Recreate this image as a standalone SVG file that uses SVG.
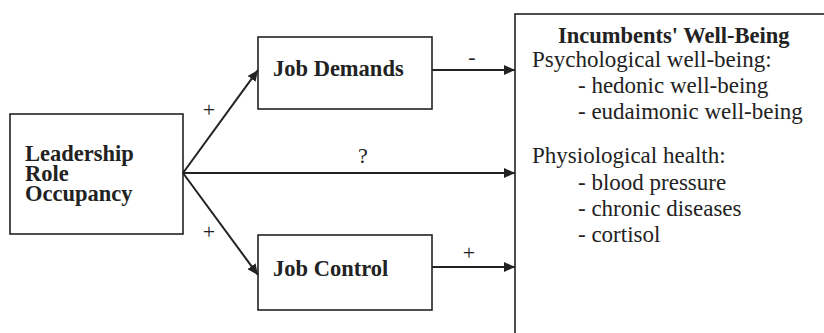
<svg xmlns="http://www.w3.org/2000/svg" width="824" height="333" viewBox="0 0 824 333">
<style>
.box{fill:#fff;stroke:#222;stroke-width:1.6}
.b{font-family:"Liberation Serif",serif;font-weight:bold;font-size:22.5px;fill:#222}
.r{font-family:"Liberation Serif",serif;font-size:23px;fill:#222}
.lbl{font-family:"Liberation Serif",serif;font-size:22px;fill:#222}
.ln{stroke:#222;stroke-width:2;fill:none;marker-end:url(#ah)}
</style>
<defs>
<marker id="ah" markerWidth="12" markerHeight="10" refX="11" refY="5" orient="auto" markerUnits="userSpaceOnUse">
<path d="M0,0 L11,5 L0,10 Z" fill="#222"/>
</marker>
</defs>
<g id="leadership">
<rect class="box" x="10" y="114" width="173" height="120"/>
<text class="b" x="25" y="161">Leadership</text>
<text class="b" x="25" y="181">Role</text>
<text class="b" x="25" y="201">Occupancy</text>
</g>
<g id="jobdemands">
<rect class="box" x="258" y="37" width="174" height="72"/>
<text class="b" x="273" y="76">Job Demands</text>
</g>
<g id="jobcontrol">
<rect class="box" x="258" y="235" width="174" height="75"/>
<text class="b" x="273" y="276">Job Control</text>
</g>
<g id="wellbeing">
<rect class="box" x="515" y="14" width="320" height="330"/>
<text class="b" x="558" y="43">Incumbents' Well-Being</text>
<text class="r" x="532" y="67">Psychological well-being:</text>
<text class="r" x="578" y="93">- hedonic well-being</text>
<text class="r" x="578" y="119">- eudaimonic well-being</text>
<text class="r" x="532" y="163">Physiological health:</text>
<text class="r" x="578" y="190">- blood pressure</text>
<text class="r" x="578" y="216">- chronic diseases</text>
<text class="r" x="578" y="242">- cortisol</text>
</g>
<g id="connectors">
<line class="ln" x1="183" y1="173" x2="258" y2="70"/>
<line class="ln" x1="183" y1="173" x2="258" y2="275"/>
<line class="ln" x1="183" y1="173" x2="515" y2="173"/>
<line class="ln" x1="432" y1="70" x2="515" y2="70"/>
<line class="ln" x1="432" y1="267" x2="515" y2="267"/>
<text class="lbl" x="209" y="117" text-anchor="middle">+</text>
<text class="lbl" x="209" y="239" text-anchor="middle">+</text>
<text class="lbl" x="472" y="64" text-anchor="middle">-</text>
<text class="lbl" x="469" y="260" text-anchor="middle">+</text>
<text class="lbl" x="363" y="163" text-anchor="middle">?</text>
</g>
</svg>
